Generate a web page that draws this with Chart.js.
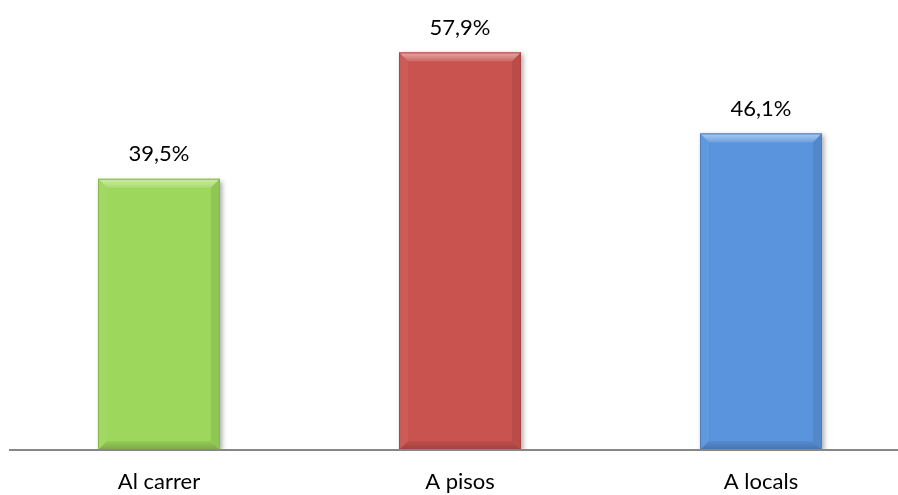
<!DOCTYPE html>
<html>
<head>
<meta charset="utf-8">
<script src="https://cdn.jsdelivr.net/npm/chart.js@4.4.1/dist/chart.umd.min.js"></script>
<style>
  html, body { margin: 0; padding: 0; background: #fff; }
  #wrap { width: 898px; height: 495px; }
</style>
</head>
<body>
<div id="wrap"><canvas id="grafic"></canvas></div>
<script>
// Dades del gràfic
const categories = ['Al carrer', 'A pisos', 'A locals'];
const valors = [39.5, 57.9, 46.1];
const etiquetes = ['39,5%', '57,9%', '46,1%'];
const colors = ['#9DD75C', '#C9534F', '#5994DC'];

const FONT = 'Lato, "Open Sans", "Liberation Sans", sans-serif';

// ajusta la lluminositat d'un color hex
function tonalitat(hex, f) {
    const n = parseInt(hex.slice(1), 16);
    let r = (n >> 16) & 255, g = (n >> 8) & 255, b = n & 255;
    if (f > 0) {
        r += (255 - r) * f; g += (255 - g) * f; b += (255 - b) * f;
    } else {
        r *= (1 + f); g *= (1 + f); b *= (1 + f);
    }
    return `rgb(${Math.round(r)},${Math.round(g)},${Math.round(b)})`;
}

// l'eix categòric del original és una mica més ample que el llenç
const ampleEixPlugin = {
    id: 'ampleEix',
    afterLayout(chart) {
        const x = chart.scales.x;
        x.left = 8.5;
        x.right = 911.5;
        x.width = x.right - x.left;
        x.configure();
    }
};

// --- efecte bisell sobre cada barra ---
const bisellPlugin = {
    id: 'bisell',
    afterDatasetsDraw(chart) {
        const ctx = chart.ctx;
        const meta = chart.getDatasetMeta(0);
        meta.data.forEach((bar, i) => {
            const p = bar.getProps(['x', 'y', 'base', 'width'], true);
            const l = p.x - p.width / 2, r = p.x + p.width / 2;
            const t = p.y, b = p.base;
            const s = 9;
            const c = colors[i];
            ctx.save();
            // superior
            let g = ctx.createLinearGradient(0, t, 0, t + s);
            g.addColorStop(0, tonalitat(c, 0.5));
            g.addColorStop(1, tonalitat(c, 0.12));
            ctx.fillStyle = g;
            ctx.beginPath();
            ctx.moveTo(l, t); ctx.lineTo(r, t); ctx.lineTo(r - s, t + s); ctx.lineTo(l + s, t + s);
            ctx.closePath(); ctx.fill();
            // esquerra
            ctx.fillStyle = tonalitat(c, 0.05);
            ctx.beginPath();
            ctx.moveTo(l, t); ctx.lineTo(l + s, t + s); ctx.lineTo(l + s, b - s); ctx.lineTo(l, b);
            ctx.closePath(); ctx.fill();
            // dreta
            ctx.fillStyle = tonalitat(c, -0.08);
            ctx.beginPath();
            ctx.moveTo(r, t); ctx.lineTo(r - s, t + s); ctx.lineTo(r - s, b - s); ctx.lineTo(r, b);
            ctx.closePath(); ctx.fill();
            // inferior
            g = ctx.createLinearGradient(0, b - s, 0, b);
            g.addColorStop(0, tonalitat(c, -0.05));
            g.addColorStop(1, tonalitat(c, -0.22));
            ctx.fillStyle = g;
            ctx.beginPath();
            ctx.moveTo(l, b); ctx.lineTo(l + s, b - s); ctx.lineTo(r - s, b - s); ctx.lineTo(r, b);
            ctx.closePath(); ctx.fill();
            // vora fina
            ctx.strokeStyle = tonalitat(c, -0.15);
            ctx.lineWidth = 1;
            ctx.strokeRect(l + 0.5, t + 0.5, p.width - 1, b - t - 1);
            ctx.restore();

            // etiqueta del valor
            ctx.save();
            ctx.fillStyle = '#000';
            ctx.font = '22px ' + FONT;
            ctx.textAlign = 'center';
            ctx.textBaseline = 'middle';
            ctx.fillText(etiquetes[i], p.x, t - 25);
            ctx.restore();
        });

        // línia de l'eix
        const area = chart.chartArea;
        ctx.save();
        ctx.strokeStyle = '#878787';
        ctx.lineWidth = 2;
        ctx.beginPath();
        ctx.moveTo(9, area.bottom);
        ctx.lineTo(898, area.bottom);
        ctx.stroke();
        ctx.restore();
    }
};

// ombra sota les barres
const ombraPlugin = {
    id: 'ombra',
    beforeDatasetsDraw(chart) {
        chart.ctx.save();
        chart.ctx.shadowColor = 'rgba(0,0,0,0.35)';
        chart.ctx.shadowBlur = 5;
        chart.ctx.shadowOffsetX = 2;
        chart.ctx.shadowOffsetY = 2;
    },
    afterDatasetsDraw(chart) {
        chart.ctx.restore();
    }
};

const ctx = document.getElementById('grafic').getContext('2d');
new Chart(ctx, {
    type: 'bar',
    data: {
        labels: categories,
        datasets: [{
            data: valors,
            backgroundColor: colors,
            borderWidth: 0,
            barPercentage: 0.405,
            categoryPercentage: 1
        }]
    },
    options: {
        responsive: true,
        maintainAspectRatio: false,
        animation: false,
        layout: {
            padding: { left: 8, right: 0, top: 38, bottom: 0 }
        },
        scales: {
            x: {
                grid: { display: false },
                border: { display: false },
                ticks: {
                    color: '#000',
                    font: { family: FONT, size: 22 },
                    padding: 11
                },
                afterFit(scale) { scale.height = 45; }
            },
            y: {
                display: false,
                min: 0,
                max: 60
            }
        },
        plugins: {
            legend: { display: false },
            tooltip: { enabled: false }
        }
    },
    plugins: [ampleEixPlugin, ombraPlugin, bisellPlugin]
});
</script>
</body>
</html>
